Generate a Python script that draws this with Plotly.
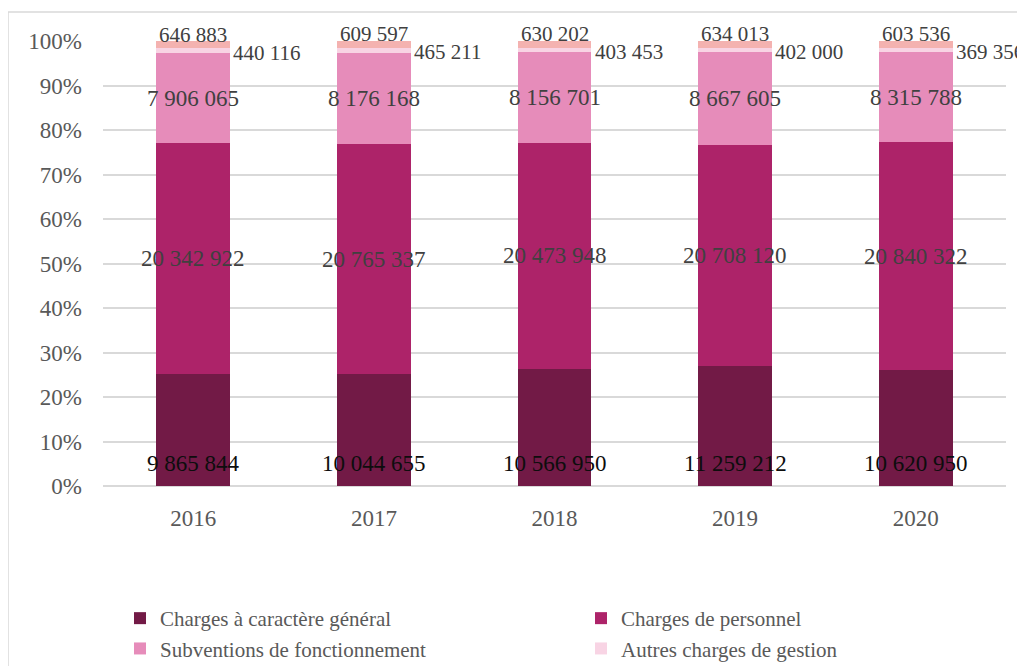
import plotly.graph_objects as go

years = ["2016", "2017", "2018", "2019", "2020"]
series_names = [
    "Charges à caractère général",
    "Charges de personnel",
    "Subventions de fonctionnement",
    "Autres charges de gestion",
    "Charges financières",
]
general = [9865844, 10044655, 10566950, 11259212, 10620950]
personnel = [20342922, 20765337, 20473948, 20708120, 20840322]
subventions = [7906065, 8176168, 8156701, 8667605, 8315788]
autres = [440116, 465211, 403453, 402000, 369356]
financieres = [646883, 609597, 630202, 634013, 603536]

series_values = [general, personnel, subventions, autres, financieres]
colors = ["#721A46", "#AD2369", "#E68CBA", "#F8D4E4", "#F4B2B0"]
legend_group = ["legend", "legend2", "legend", "legend2", None]

FONT = "Liberation Serif, Times New Roman, serif"
BIG = 23
SMALL = 21
W, H = 1025, 666

fig = go.Figure()
for name, vals, col, lg in zip(series_names, series_values, colors, legend_group):
    fig.add_trace(go.Bar(x=years, y=vals, name=name, marker_color=col,
                         marker_line_width=0, showlegend=lg is not None,
                         legend=lg if lg else "legend", hoverinfo="skip"))

def fmt(v):
    return f"{v:,}".replace(",", " ")

totals = [sum(s[i] for s in series_values) for i in range(len(years))]
annotations = []
for i, yr in enumerate(years):
    cum = 0.0
    for k, vals in enumerate(series_values):
        pct = vals[i] / totals[i] * 100
        mid = cum + pct / 2
        cum += pct
        a = dict(x=i, xref="x", yref="y", text=fmt(vals[i]), showarrow=False,
                 font=dict(family=FONT, size=BIG, color="#404040"))
        if k == 0:
            a.update(y=0, yanchor="middle", yshift=23,
                     font=dict(family=FONT, size=BIG, color="#0d0d0d"))
        elif k in (1, 2):
            a.update(y=mid, yanchor="middle")
        elif k == 3:
            a.update(y=mid, yanchor="middle", xanchor="left", xshift=38, yshift=-2,
                     font=dict(family=FONT, size=SMALL, color="#404040"))
        else:
            a.update(y=mid, yanchor="middle", yshift=10,
                     font=dict(family=FONT, size=SMALL, color="#404040"))
        annotations.append(a)

legend_common = dict(
    orientation="v",
    xref="container", yref="container",
    xanchor="left", yanchor="top",
    y=(H - 590) / H,
    font=dict(family=FONT, size=21, color="#595959"),
    traceorder="normal",
    itemwidth=30,
    tracegroupgap=0,
    bgcolor="rgba(0,0,0,0)",
)

fig.update_layout(
    barmode="stack",
    barnorm="percent",
    bargap=0.592,
    width=W,
    height=H,
    margin=dict(l=95, r=W - 95 - 903, t=33, b=H - 33 - 445, autoexpand=False),
    paper_bgcolor="white",
    plot_bgcolor="white",
    font=dict(family=FONT, size=23, color="#595959"),
    annotations=annotations,
    showlegend=True,
    legend=dict(legend_common, x=112 / W),
    legend2=dict(legend_common, x=573 / W),
    shapes=[dict(type="rect", xref="paper", yref="paper",
                 x0=-0.1052, x1=1.08, y0=-0.6, y1=1.0652,
                 line=dict(color="#D9D9D9", width=1.5), fillcolor="rgba(0,0,0,0)", layer="below")],
)
fig.update_xaxes(type="category", range=[-0.5, 4.5], showgrid=False, showline=False, ticks="",
                 tickfont=dict(family=FONT, size=23, color="#595959"), ticklabelstandoff=16)
fig.update_yaxes(range=[0, 100.001], dtick=10, ticksuffix="%", showgrid=True,
                 gridcolor="#D9D9D9", gridwidth=1.5, zeroline=True, zerolinecolor="#D9D9D9",
                 zerolinewidth=1.5, showline=False, ticks="",
                 tickfont=dict(family=FONT, size=23, color="#595959"), ticklabelstandoff=20)

fig.write_html("out.html")
